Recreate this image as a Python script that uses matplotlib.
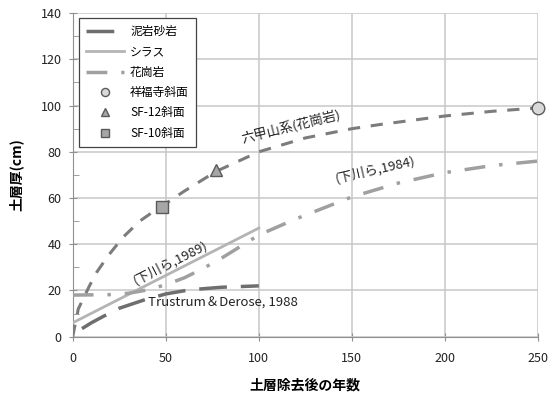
import matplotlib
matplotlib.use('Agg')
import matplotlib.pyplot as plt
from matplotlib.ticker import MultipleLocator

plt.rcParams['font.family'] = ['Noto Sans CJK JP', 'DejaVu Sans']

# 泥岩砂岩 (Trustrum & Derose, 1988)
mud_x = [5, 10, 16, 25, 38, 50, 63, 80, 100]
mud_y = [3.5, 6, 8.6, 12.3, 15.8, 18.5, 20.3, 21.4, 22]

# シラス (下川ら, 1989)
shirasu_x = [0, 100]
shirasu_y = [6, 47]

# 花崗岩 (下川ら, 1984)
gran_x = [0, 20, 30, 40, 50, 60, 70, 80, 90, 100, 120, 150, 175, 200, 225, 250]
gran_y = [18, 18.2, 18.8, 20.2, 22.5, 25.5, 29.5, 34, 39, 44, 51, 60.5, 66.5, 71, 74, 76]

# 六甲山系(花崗岩)
rokko_x = [0, 3, 9, 13, 19, 27, 36, 44, 48, 60, 77, 100, 125, 150, 165, 200, 225, 250]
rokko_y = [0, 12, 22, 28, 35, 43, 50, 54.5, 56.5, 63, 71.5, 80, 86, 90, 91.8, 95.5, 97.5, 99]

# observed slopes
site_names = ['祥福寺斜面', 'SF-12斜面', 'SF-10斜面']
site_x = [250, 77, 48]
site_y = [99, 72, 56]
site_markers = ['o', '^', 's']
site_colors = ['#d9d9d9', '#a6a6a6', '#a6a6a6']

fig = plt.figure(figsize=(5.6, 3.98), dpi=100)
ax = fig.add_axes([0.1298, 0.154, 0.831, 0.813])

ax.plot(mud_x, mud_y, color='#6e6e6e', lw=2.5, dashes=(8, 4), label='泥岩砂岩', zorder=3)
ax.plot(shirasu_x, shirasu_y, color='#b4b4b4', lw=2, label='シラス', zorder=3)
ax.plot(gran_x, gran_y, color='#a0a0a0', lw=2.5, dashes=(6, 4, 1, 4), label='花崗岩', zorder=3)
ax.plot(rokko_x, rokko_y, color='#7c7c7c', lw=2.2, dashes=(4, 3.5), zorder=3)

for name, x, y, m, c in zip(site_names, site_x, site_y, site_markers, site_colors):
    ax.plot(x, y, marker=m, ms=9, mfc=c, mec='#5a5a5a',
            mew=1, ls='none', label=name, zorder=4, clip_on=False)

note = dict(fontsize=9.5, color='#222222', rotation_mode='anchor')
ax.text(92, 82.5, '六甲山系(花崗岩)', rotation=14, va='bottom', **note)
ax.text(142, 65.5, '(下川ら,1984)', rotation=13, va='bottom', **note)
ax.text(34.5, 21.5, '(下川ら,1989)', rotation=27, va='bottom', **note)
ax.text(40.5, 14.5, 'Trustrum＆Derose, 1988', va='center', **note)

ax.set_xlim(0, 250)
ax.set_ylim(0, 140)
ax.xaxis.set_major_locator(MultipleLocator(50))
ax.yaxis.set_major_locator(MultipleLocator(20))
ax.yaxis.set_minor_locator(MultipleLocator(10))
ax.grid(True, which='major', color='#c8c8c8', lw=1.1)
ax.set_axisbelow(True)
for side in ['top', 'right']:
    ax.spines[side].set_visible(False)
for side in ['left', 'bottom']:
    ax.spines[side].set_color('#909090')
ax.tick_params(which='major', direction='inout', length=6, color='#909090',
               labelsize=9, labelcolor='#222222')
ax.tick_params(axis='y', which='minor', direction='in', length=4, color='#909090')
ax.tick_params(axis='y', pad=5)
ax.tick_params(axis='x', pad=8)

ax.set_xlabel('土層除去後の年数', fontsize=10, fontweight='bold', labelpad=10)
ax.set_ylabel('土層厚(cm)', fontsize=10, fontweight='bold', labelpad=12)

leg = ax.legend(loc='upper left', bbox_to_anchor=(0.0142, 0.9846), borderaxespad=0,
                fontsize=8.5, frameon=True, fancybox=False, edgecolor='#444444',
                framealpha=1, handlelength=3.2, handletextpad=0.5, markerscale=0.65,
                borderpad=0.6, labelspacing=0.62)
leg.get_frame().set_linewidth(0.9)

fig.savefig('out.png', dpi=100)
